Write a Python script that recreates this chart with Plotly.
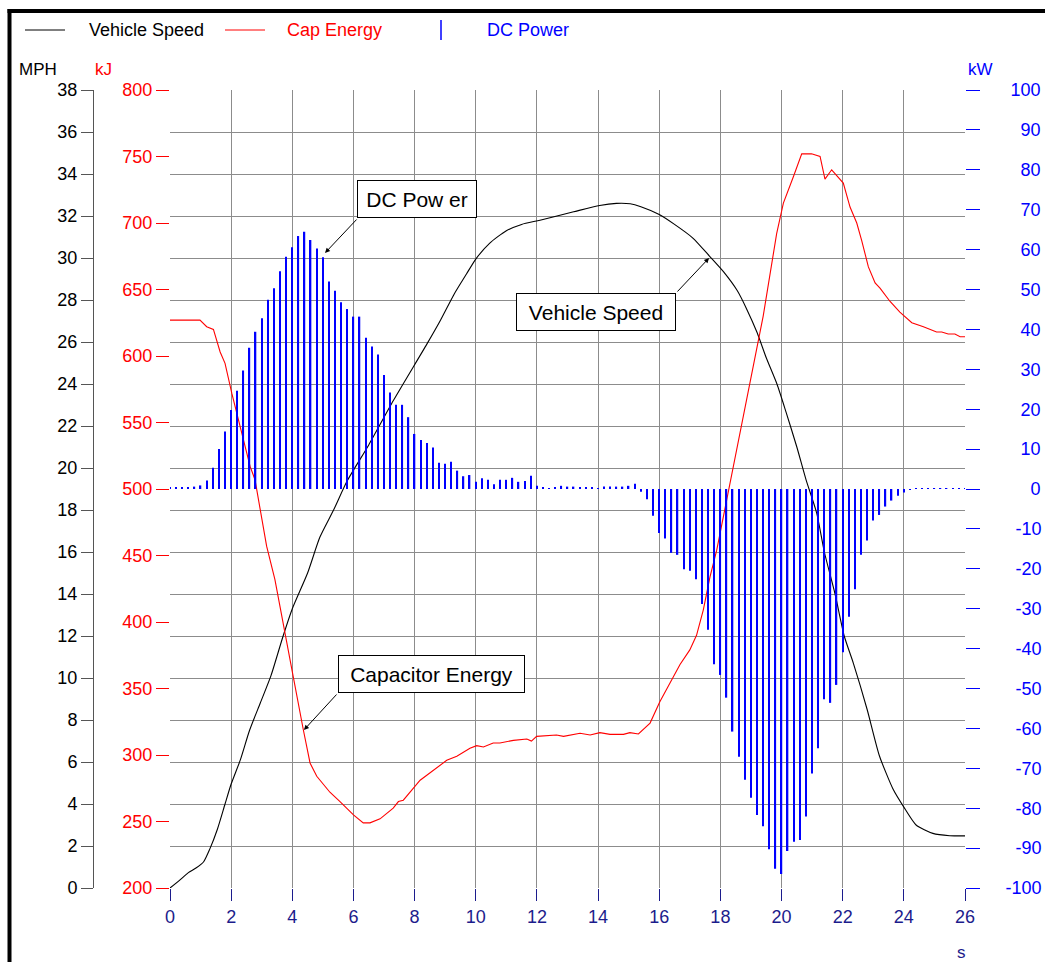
import plotly.graph_objects as go

# ---------------- data ----------------
speed_t = [0.0, 0.3, 0.6, 0.85, 1.1, 1.3, 1.55, 1.8, 2.0, 2.3, 2.6, 2.95, 3.3, 3.7, 4.0, 4.5, 4.9,
           5.35, 5.8, 6.5, 7.3, 8.4, 8.85, 9.3, 9.7, 10.0, 10.45, 11.0, 11.5, 12.1, 13.2, 14.05,
           14.6, 15.05, 15.4, 16.0, 16.5, 17.1, 17.65, 18.1, 18.55, 18.85, 19.2, 19.5, 19.85,
           20.15, 20.5, 20.8, 21.15, 21.4, 21.75, 22.05, 22.35, 22.8, 23.2, 23.65, 24.0, 24.4,
           24.95, 25.5, 26.0]
speed_mph = [0.0, 0.35, 0.73, 0.95, 1.25, 1.85, 2.8, 4.0, 4.95, 6.1, 7.5, 8.8, 10.1, 12.0, 13.3,
             15.0, 16.7, 18.0, 19.4, 21.1, 23.2, 25.9, 27.05, 28.3, 29.25, 29.95, 30.7, 31.3,
             31.6, 31.8, 32.2, 32.5, 32.6, 32.58, 32.44, 32.07, 31.6, 30.95, 30.08, 29.35, 28.45,
             27.6, 26.45, 25.25, 24.0, 22.65, 21.0, 19.45, 17.85, 16.0, 14.0, 12.0, 10.7, 8.5,
             6.3, 4.7, 3.85, 3.0, 2.6, 2.49, 2.48]

cap_t = [0.0, 0.98, 1.2, 1.42, 1.64, 1.8, 2.02, 2.29, 2.62, 2.78, 3.16, 3.43, 3.71, 4.03, 4.36,
         4.58, 4.8, 5.23, 5.56, 6.0, 6.32, 6.54, 6.87, 7.3, 7.47, 7.63, 8.18, 9.05, 9.38, 9.81,
         10.03, 10.25, 10.57, 10.79, 11.23, 11.67, 11.82, 11.99, 12.64, 12.87, 13.41, 13.74,
         14.06, 14.39, 14.83, 15.04, 15.32, 15.59, 15.7, 16.02, 16.35, 16.68, 17.0, 17.22,
         17.44, 17.66, 17.88, 18.53, 18.97, 19.4, 19.84, 20.06, 20.39, 20.66, 20.98, 21.26,
         21.42, 21.64, 22.02, 22.24, 22.46, 22.62, 22.84, 23.06, 23.22, 23.55, 23.87, 24.26,
         24.64, 25.07, 25.24, 25.45, 25.67, 25.84, 26.0]
cap_kj = [627, 627, 622, 620, 603, 594.5, 572, 547, 517, 507, 457, 432, 397, 359, 319,
          294, 284, 272, 265, 255, 249, 249, 252, 260, 265, 266, 281, 296, 299, 305,
          307, 306, 309, 309, 311, 312, 310.5, 314, 315, 314, 316.3, 315,
          316.8, 315.5, 315.5, 316.8, 315.8, 321.3, 324, 340, 354, 368, 379, 390,
          409, 434, 454, 529, 580, 630, 692, 715, 735, 752, 752, 750,
          733, 740, 730, 712, 700, 687, 667, 655, 651, 641, 633, 625,
          622, 618, 618, 616.5, 616.5, 614.5, 614.5]

power_t = [0.0, 0.2, 0.4, 0.6, 0.8, 1.0, 1.2, 1.4, 1.6, 1.8, 2.0, 2.2, 2.4, 2.6, 2.8, 3.0, 3.2,
           3.4, 3.6, 3.8, 4.0, 4.2, 4.4, 4.6, 4.8, 5.0, 5.2, 5.4, 5.6, 5.8, 6.0, 6.2, 6.4, 6.6,
           6.8, 7.0, 7.2, 7.4, 7.6, 7.8, 8.0, 8.2, 8.4, 8.6, 8.8, 9.0, 9.2, 9.4, 9.6, 9.8, 10.0,
           10.2, 10.4, 10.6, 10.8, 11.0, 11.2, 11.4, 11.6, 11.8, 12.0, 12.2, 12.4, 12.6, 12.8,
           13.0, 13.2, 13.4, 13.6, 13.8, 14.0, 14.2, 14.4, 14.6, 14.8, 15.0, 15.2, 15.4, 15.6,
           15.8, 16.0, 16.2, 16.4, 16.6, 16.8, 17.0, 17.2, 17.4, 17.6, 17.8, 18.0, 18.2, 18.4,
           18.6, 18.8, 19.0, 19.2, 19.4, 19.6, 19.8, 20.0, 20.2, 20.4, 20.6, 20.8, 21.0, 21.2,
           21.4, 21.6, 21.8, 22.0, 22.2, 22.4, 22.6, 22.8, 23.0, 23.2, 23.4, 23.6, 23.8, 24.0,
           24.2, 24.4, 24.6, 24.8, 25.0, 25.2, 25.4, 25.6, 25.8, 26.0]
power_kw = [0.3, 0.3, 0.3, 0.3, 0.6, 0.9, 2.1, 5.3, 10.0, 14.4, 19.8, 24.6, 29.7, 35.4, 39.4,
            42.8, 47.4, 50.3, 54.6, 58.2, 60.6, 63.4, 64.5, 62.4, 60.3, 58.1, 52.0, 49.7, 46.8,
            45.1, 43.2, 43.2, 37.9, 35.7, 33.7, 28.6, 24.2, 21.1, 21.1, 18.0, 13.8, 12.3, 11.5,
            10.4, 6.6, 6.3, 6.8, 4.6, 3.2, 3.5, 1.8, 2.7, 2.3, 1.2, 2.3, 2.3, 2.8, 1.8, 2.0, 3.3,
            0.8, 0.4, 0.1, 0.5, 0.8, 0.6, 0.6, 0.5, 0.5, 0.4, 0.1, 0.6, 0.6, 0.6, 0.6, 0.8, 1.3,
            -0.7, -2.6, -6.7, -11.0, -12.4, -16.0, -16.5, -20.1, -20.5, -22.6, -28.8, -35.3,
            -43.9, -46.6, -52.3, -60.8, -67.1, -72.9, -77.4, -81.7, -84.5, -90.3, -95.2, -96.5,
            -90.7, -88.4, -88.0, -82.1, -71.3, -65.0, -52.7, -53.6, -49.1, -40.9, -32.0, -25.1,
            -16.5, -12.9, -7.9, -6.5, -4.4, -2.9, -1.7, -0.9, -0.2, 0.2, 0.2, 0.2, 0.2, 0.2, 0.2,
            0.2, 0.2, 0.2]

x_ticks = [0, 2, 4, 6, 8, 10, 12, 14, 16, 18, 20, 22, 24, 26]
x_grid = [0, 2, 4, 6, 8, 10, 12, 14, 16, 18, 20, 22, 24]
mph_ticks = list(range(0, 39, 2))
mph_grid = list(range(2, 39, 2))
kj_ticks = list(range(200, 801, 50))
kw_ticks = list(range(-100, 101, 10))


def kw_label(v):
    # pad with non-breaking spaces so the right-hand labels end flush, like the original
    s = str(v)
    pads = {4: 0, 3: 1 if v > 0 else 2, 2: 3, 1: 5}[len(s)]
    return "\u00a0" * pads + s


kw_text = [kw_label(v) for v in kw_ticks]

# ---------------- layout helpers ----------------
W, H = 1045, 962
L, R, T, B = 10, 10, 90, 74
PW, PH = W - L - R, H - T - B


def px(x):
    return (x - L) / PW


def py(y):
    return (H - B - y) / PH


FONT = "Arial, Liberation Sans, sans-serif"
RED = "#ff0000"
BLUE = "#0000ff"
NAVY = "#1c1c8c"
GRID = "#8c8c8c"

fig = go.Figure()
fig.add_trace(go.Bar(x=power_t, y=power_kw, yaxis="y3", width=0.045,
                     marker=dict(color=BLUE, line=dict(width=0)), name="DC Power"))
fig.add_trace(go.Scatter(x=cap_t, y=cap_kj, yaxis="y2", mode="lines",
                         line=dict(color=RED, width=1.1), name="Cap Energy"))
fig.add_trace(go.Scatter(x=speed_t, y=speed_mph, yaxis="y", mode="lines",
                         line=dict(color="#000000", width=1.1, shape="spline", smoothing=0.6),
                         name="Vehicle Speed"))

fig.update_layout(
    template="none",
    width=W, height=H,
    margin=dict(l=L, r=R, t=T, b=B, pad=0),
    paper_bgcolor="white", plot_bgcolor="white",
    showlegend=False,
    font=dict(family=FONT, size=18, color="black"),
    xaxis=dict(domain=[px(170), px(965)], range=[0, 26], tickvals=x_ticks,
               ticks="outside", ticklen=12, tickwidth=1, tickcolor=NAVY,
               tickfont=dict(color=NAVY, size=18), showgrid=False,
               minor=dict(tickvals=x_grid, showgrid=True, gridcolor=GRID, gridwidth=1, ticks=""),
               zeroline=False, showline=False, automargin=False),
    yaxis=dict(range=[0, 38], tickvals=mph_ticks, anchor="free", position=px(93),
               side="left", showline=True, linecolor="#555555", linewidth=1,
               ticks="outside", ticklen=12, tickcolor="#555555",
               tickfont=dict(color="black", size=18), showgrid=False,
               minor=dict(tickvals=mph_grid, showgrid=True, gridcolor=GRID, gridwidth=1, ticks=""),
               zeroline=False, automargin=False),
    yaxis2=dict(range=[200, 800], tickvals=kj_ticks, overlaying="y", anchor="x",
                side="left", ticks="outside", ticklen=13, tickcolor=RED,
                tickfont=dict(color=RED, size=18), showgrid=False, zeroline=False,
                showline=False, automargin=False),
    yaxis3=dict(range=[-100, 100], tickvals=kw_ticks, ticktext=kw_text, overlaying="y",
                anchor="x", side="right", ticks="outside", ticklen=14, tickcolor=BLUE,
                tickfont=dict(color=BLUE, size=18), showgrid=False, zeroline=False,
                showline=False, automargin=False, ticklabelstandoff=22),
)

ann = []
# axis unit titles
ann.append(dict(text="MPH", x=px(17), y=py(70), xanchor="left", yanchor="middle",
                font=dict(size=17, color="black")))
ann.append(dict(text="kJ", x=px(93), y=py(70), xanchor="left", yanchor="middle",
                font=dict(size=17, color=RED)))
ann.append(dict(text="kW", x=px(966), y=py(70), xanchor="left", yanchor="middle",
                font=dict(size=17, color=BLUE)))
ann.append(dict(text="s", x=px(961), y=py(952), xanchor="center", yanchor="middle",
                font=dict(size=17, color=NAVY)))
# legend texts
ann.append(dict(text="Vehicle Speed", x=px(87), y=py(30), xanchor="left", yanchor="middle",
                font=dict(size=18, color="black")))
ann.append(dict(text="Cap Energy", x=px(285), y=py(30), xanchor="left", yanchor="middle",
                font=dict(size=18, color=RED)))
ann.append(dict(text="DC Power", x=px(485), y=py(30), xanchor="left", yanchor="middle",
                font=dict(size=18, color=BLUE)))
# callout boxes
for txt, cx, cy, w in [("DC Pow er", 417, 199, 116), ("Vehicle Speed", 596, 312, 156),
                       ("Capacitor Energy", 431, 674, 183)]:
    ann.append(dict(text=txt, x=px(cx), y=py(cy), xanchor="center", yanchor="middle",
                    width=w, height=34, borderpad=1, bordercolor="black", borderwidth=1,
                    bgcolor="white", font=dict(size=21, color="black")))
for a in ann:
    a.update(xref="paper", yref="paper", showarrow=False)

# arrows
ann.append(dict(text="", x=5.07, y=59.15, xref="x", yref="y3", ax=33, ay=-35,
                showarrow=True, arrowhead=2, arrowsize=1, arrowwidth=1, arrowcolor="black",
                standoff=0, startstandoff=0))
ann.append(dict(text="", x=17.63, y=30.0, xref="x", yref="y", ax=-33, ay=35,
                showarrow=True, arrowhead=2, arrowsize=1, arrowwidth=1, arrowcolor="black",
                standoff=0, startstandoff=0))
ann.append(dict(text="", x=4.38, y=318.8, xref="x", yref="y2", ax=34, ay=-37,
                showarrow=True, arrowhead=2, arrowsize=1, arrowwidth=1, arrowcolor="black",
                standoff=0, startstandoff=0))
fig.update_layout(annotations=ann)

shapes = []
# legend samples
shapes.append(dict(type="line", xref="paper", yref="paper", x0=px(25), x1=px(65),
                   y0=py(30), y1=py(30), line=dict(color="black", width=1)))
shapes.append(dict(type="line", xref="paper", yref="paper", x0=px(225), x1=px(265),
                   y0=py(30), y1=py(30), line=dict(color=RED, width=1)))
shapes.append(dict(type="line", xref="paper", yref="paper", x0=px(441), x1=px(441),
                   y0=py(20), y1=py(40), line=dict(color=BLUE, width=1.5)))
# outer frame
shapes.append(dict(type="line", xref="paper", yref="paper", x0=px(9.5), x1=px(9.5),
                   y0=py(9), y1=py(962), line=dict(color="black", width=4)))
shapes.append(dict(type="line", xref="paper", yref="paper", x0=px(7.5), x1=px(1045),
                   y0=py(11), y1=py(11), line=dict(color="black", width=4)))
fig.update_layout(shapes=shapes)

fig.write_html("out.html", config={"displayModeBar": False},
               post_script="document.body.style.margin='0px';document.body.style.overflow='hidden';")
